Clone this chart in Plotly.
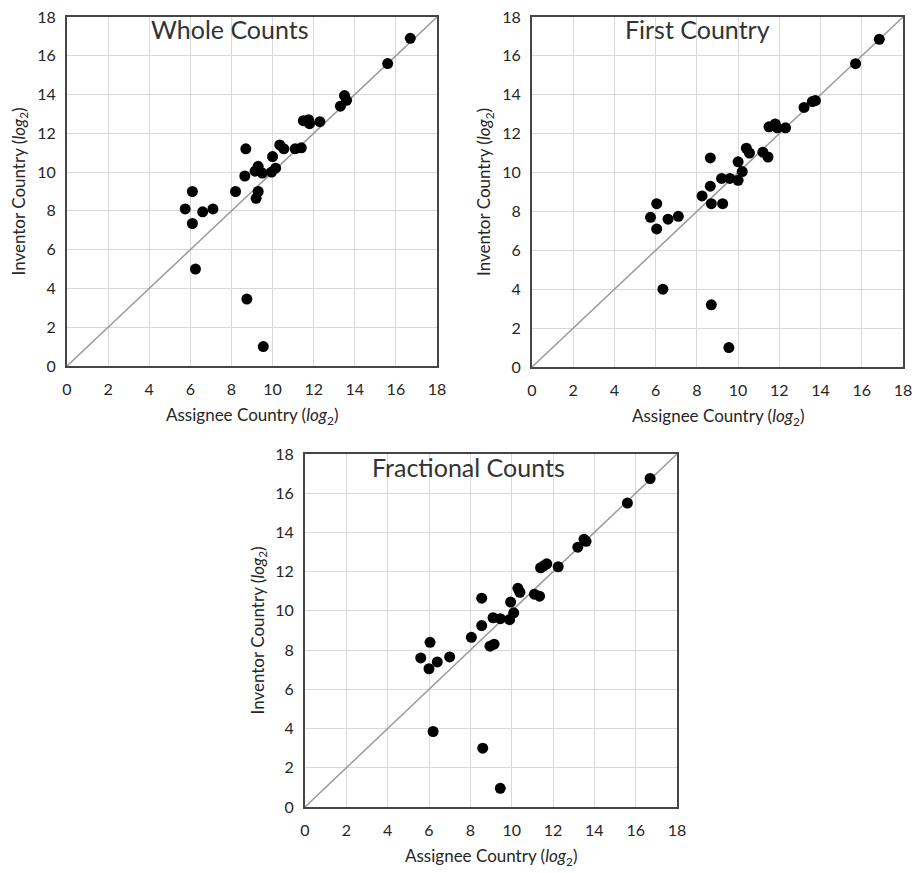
import plotly.graph_objects as go

# ---- data ----
whole_x = [16.7, 15.6, 13.5, 13.6, 13.3, 11.5, 11.75, 11.8, 12.3, 11.1, 11.4, 10.35, 10.55, 8.7,
           10.0, 9.3, 9.15, 9.5, 9.95, 10.15, 8.65, 8.2, 9.3, 9.2, 6.1, 5.75, 6.6, 7.1, 6.1, 6.25, 8.75, 9.55]
whole_y = [16.9, 15.6, 13.95, 13.7, 13.4, 12.65, 12.7, 12.5, 12.6, 11.2, 11.25, 11.4, 11.2, 11.2,
           10.8, 10.3, 10.05, 9.95, 10.0, 10.2, 9.8, 9.0, 9.0, 8.65, 9.0, 8.1, 7.95, 8.1, 7.35, 5.0, 3.45, 1.0]

first_x = [16.85, 15.7, 13.2, 13.6, 13.75, 11.5, 11.8, 11.9, 12.3, 10.4, 10.55, 11.2, 11.45, 8.65,
           10.0, 9.2, 9.6, 10.2, 10.0, 8.65, 8.25, 8.7, 9.25, 6.05, 5.75, 6.6, 7.1, 6.05, 6.35, 8.7, 9.55]
first_y = [16.85, 15.6, 13.35, 13.65, 13.7, 12.35, 12.5, 12.3, 12.3, 11.25, 11.0, 11.05, 10.8, 10.75,
           10.55, 9.7, 9.7, 10.05, 9.6, 9.3, 8.8, 8.4, 8.4, 8.4, 7.7, 7.6, 7.75, 7.1, 4.0, 3.2, 1.0]

frac_x = [16.7, 15.6, 13.2, 13.5, 13.6, 11.4, 11.7, 12.25, 11.55, 10.3, 10.4, 11.1, 11.35, 8.55,
          9.95, 9.1, 9.45, 10.1, 9.9, 8.55, 8.05, 8.95, 9.15, 6.05, 5.6, 6.4, 7.0, 6.0, 6.2, 8.6, 9.45]
frac_y = [16.75, 15.5, 13.25, 13.65, 13.55, 12.2, 12.4, 12.25, 12.3, 11.15, 10.95, 10.85, 10.75, 10.65,
          10.45, 9.65, 9.6, 9.9, 9.55, 9.25, 8.65, 8.2, 8.3, 8.4, 7.6, 7.4, 7.65, 7.05, 3.85, 3.0, 0.95]

diag = [0, 18]
tick_vals = [0, 2, 4, 6, 8, 10, 12, 14, 16, 18]
tick_text = [str(v) for v in tick_vals]

panel_titles = ["Whole Counts", "First Country", "Fractional Counts"]
x_title = "Assignee Country (<i>log</i><sub>2</sub>)"
y_title = "Inventor Country (<i>log</i><sub>2</sub>)"

FONT = "Lato, 'Open Sans', sans-serif"
TXT = "#262626"

OFF = 8            # page offset of the figure (body margin)
W, H = 921 - OFF, 873 - OFF

def px(x):
    return (x - OFF) / W

def py(y):
    return 1 - (y - OFF) / H

fig = go.Figure()

panels = [
    (whole_x, whole_y, "x", "y"),
    (first_x, first_y, "x2", "y2"),
    (frac_x, frac_y, "x3", "y3"),
]

for xs, ys, xa, ya in panels:
    fig.add_trace(go.Scatter(x=diag, y=diag, mode="lines", xaxis=xa, yaxis=ya,
                             line=dict(color="#9a9a9a", width=1.5), showlegend=False, hoverinfo="skip"))
    fig.add_trace(go.Scatter(x=xs, y=ys, mode="markers", xaxis=xa, yaxis=ya,
                             marker=dict(color="black", size=11), showlegend=False))

# screen-pixel boxes of the three plot areas (left, right, top, bottom)
boxes = {
    "1": (67, 437, 17, 366),
    "2": (532, 903, 17, 367),
    "3": (305, 677, 454, 807),
}

def axis_common():
    return dict(range=[0, 18], tickvals=tick_vals, ticktext=tick_text,
                showgrid=True, gridcolor="#d9d9d9", gridwidth=1,
                showline=True, mirror=True, linecolor="#454545", linewidth=2,
                zeroline=False, ticks="", automargin=False, ticklabeloverflow="allow",
                tickfont=dict(family=FONT, size=16, color=TXT),
                fixedrange=True)

layout = dict(width=W, height=H, margin=dict(l=0, r=0, t=0, b=0),
              paper_bgcolor="white", plot_bgcolor="white", font=dict(family=FONT, color=TXT))

for key in ["1", "2", "3"]:
    sfx = "" if key == "1" else key
    l, r, t, b = boxes[key]
    xa = axis_common()
    xa.update(domain=[px(l), px(r)], anchor="y" + sfx, ticklabelstandoff=8)
    ya = axis_common()
    ya.update(domain=[py(b), py(t)], anchor="x" + sfx, ticklabelstandoff=6)
    layout["xaxis" + sfx] = xa
    layout["yaxis" + sfx] = ya

fig.update_layout(**layout)

# axis titles as annotations placed relative to each plot box
for key in ["1", "2", "3"]:
    l, r, t, b = boxes[key]
    fig.add_annotation(text=x_title, xref="paper", yref="paper",
                       x=px((l + r) / 2), y=py(b + 50), showarrow=False,
                       xanchor="center", yanchor="middle",
                       font=dict(family=FONT, size=17, color=TXT))
    fig.add_annotation(text=y_title, xref="paper", yref="paper", textangle=-90,
                       x=px(l - 47), y=py((t + b) / 2), showarrow=False,
                       xanchor="center", yanchor="middle",
                       font=dict(family=FONT, size=17, color=TXT))

title_pos = [(230, 29), (697, 29), (468, 467)]
for txt, (tx, ty) in zip(panel_titles, title_pos):
    fig.add_annotation(text=txt, xref="paper", yref="paper", x=px(tx), y=py(ty), showarrow=False,
                       xanchor="center", yanchor="middle",
                       font=dict(family=FONT, size=25, color="#333333"))

fig.write_html("out.html")
